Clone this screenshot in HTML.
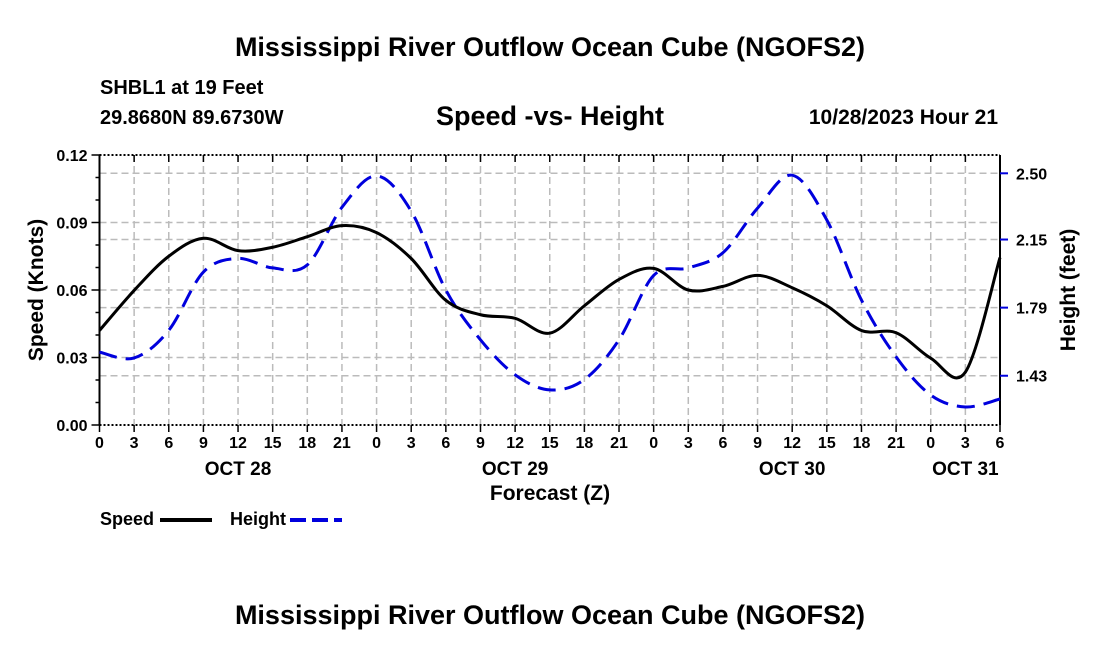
<!DOCTYPE html>
<html><head><meta charset="utf-8"><style>
body{margin:0;background:#fff;}
svg text{font-family:"Liberation Sans",Arial,sans-serif;font-weight:bold;fill:#000;}
</style></head><body>
<svg id="chart" width="1100" height="650" xmlns="http://www.w3.org/2000/svg">
<text x="550" y="56" font-size="27" text-anchor="middle">Mississippi River Outflow Ocean Cube (NGOFS2)</text>
<text x="100" y="94" font-size="20">SHBL1 at 19 Feet</text>
<text x="100" y="124" font-size="20">29.8680N  89.6730W</text>
<text x="550" y="125" font-size="27" text-anchor="middle">Speed -vs- Height</text>
<text x="998" y="124" font-size="21" text-anchor="end">10/28/2023 Hour 21</text>
<g id="grid"></g>
<g id="axes"></g>
<g id="series"></g>
<text x="550" y="500" font-size="21" text-anchor="middle">Forecast (Z)</text>
<text transform="translate(43,290) rotate(-90)" font-size="21" text-anchor="middle">Speed (Knots)</text>
<text transform="translate(1075,290) rotate(-90)" font-size="21" text-anchor="middle">Height (feet)</text>
<g><text x="100" y="525" font-size="18">Speed</text><line x1="160" y1="520" x2="212" y2="520" stroke="#000" stroke-width="4"/></g>
<g><text x="230" y="525" font-size="18">Height</text><line x1="290" y1="520" x2="342" y2="520" stroke="#0000dd" stroke-width="4" stroke-dasharray="16,6"/></g>
<text x="550" y="624" font-size="27" text-anchor="middle">Mississippi River Outflow Ocean Cube (NGOFS2)</text>
</svg>
<script>
const hours=[0,3,6,9,12,15,18,21,24,27,30,33,36,39,42,45,48,51,54,57,60,63,66,69,72,75,78];
const speed=[0.042,0.0598,0.075,0.083,0.0775,0.079,0.0837,0.0886,0.0855,0.074,0.0554,0.049,0.0474,0.0408,0.053,0.0647,0.0696,0.060,0.0616,0.0665,0.061,0.053,0.042,0.041,0.0297,0.0235,0.0744];
const height=[1.555,1.524,1.67,1.978,2.05,2.0,2.016,2.32,2.486,2.30,1.883,1.62,1.435,1.355,1.41,1.62,1.96,2.0,2.08,2.316,2.49,2.253,1.83,1.53,1.328,1.265,1.307];
const xTickLabels=["0","3","6","9","12","15","18","21","0","3","6","9","12","15","18","21","0","3","6","9","12","15","18","21","0","3","6"];
const dayLabels=["OCT 28","OCT 29","OCT 30","OCT 31"];
const dayHours=[12,36,60,75];
const speedTicks=[0,0.03,0.06,0.09,0.12];
const heightTicks=[1.43,1.79,2.15,2.50];
const L=99.5,R=1000,T=155,B=425;
const x=h=>L+(h-0)/78*(R-L);
const yS=v=>B-v/0.12*(B-T);
const yH=v=>173.3+(2.50-v)*189.2;
const NS="http://www.w3.org/2000/svg";
function mk(parent,tag,attrs){const e=document.createElementNS(NS,tag);for(const k in attrs)e.setAttribute(k,attrs[k]);document.getElementById(parent).appendChild(e);return e;}
hours.forEach((h,i)=>{if(i>0&&i<hours.length-1){const g=mk('grid','line',{x1:x(h),x2:x(h),y1:T,y2:B,stroke:'#bbb','stroke-width':1.5,'stroke-dasharray':'7,4'});

}});
speedTicks.slice(1,4).forEach(v=>{const g=mk('grid','line',{x1:L,x2:R,y1:yS(v),y2:yS(v),stroke:'#bbb','stroke-width':1.5,'stroke-dasharray':'7,4'});

});
heightTicks.forEach(v=>{const g=mk('grid','line',{x1:L,x2:R,y1:yH(v),y2:yH(v),stroke:'#bbb','stroke-width':1.5,'stroke-dasharray':'7,4'});

});
mk('axes','line',{x1:L,x2:L,y1:T,y2:B,stroke:'#000','stroke-width':2});
mk('axes','line',{x1:R,x2:R,y1:T,y2:B,stroke:'#000','stroke-width':2});
mk('axes','line',{x1:L,x2:R,y1:T,y2:T,stroke:'#000','stroke-width':2,'stroke-dasharray':'2,2'});
mk('axes','line',{x1:L,x2:R,y1:B,y2:B,stroke:'#000','stroke-width':2,'stroke-dasharray':'2,2'});
hours.forEach((h,i)=>{mk('axes','line',{x1:x(h),x2:x(h),y1:B,y2:B+7,stroke:'#000','stroke-width':1.5});
mk('axes','line',{x1:x(h),x2:x(h),y1:T,y2:T+7,stroke:'#000','stroke-width':1.5});
const t=mk('axes','text',{x:x(h),y:B+23,'font-size':16,'text-anchor':'middle'});t.textContent=xTickLabels[i];

});
dayLabels.forEach((d,i)=>{const t=mk('axes','text',{x:x(dayHours[i]),y:B+50,'font-size':19,'text-anchor':'middle'});t.textContent=d;

});
for(let v=0;v<=0.1201;v+=0.01){mk('axes','line',{x1:L-(Math.round(v*100)%3==0?8:4),x2:L,y1:yS(v),y2:yS(v),stroke:'#000','stroke-width':1.5});}
speedTicks.forEach(v=>{const t=mk('axes','text',{x:L-12,y:yS(v)+6,'font-size':16,'text-anchor':'end'});t.textContent=v.toFixed(2);

});
heightTicks.forEach(v=>{mk('axes','line',{x1:R,x2:R+8,y1:yH(v),y2:yH(v),stroke:'#0000dd','stroke-width':2});
const t=mk('axes','text',{x:R+16,y:yH(v)+6,'font-size':16});t.textContent=v.toFixed(2);

});
function path(pts){let d='M'+pts[0][0]+','+pts[0][1];for(let i=0;i<pts.length-1;i++){const p0=pts[i-1]||pts[i],p1=pts[i],p2=pts[i+1],p3=pts[i+2]||p2;
d+=' C'+(p1[0]+(p2[0]-p0[0])/6)+','+(p1[1]+(p2[1]-p0[1])/6)+' '+(p2[0]-(p3[0]-p1[0])/6)+','+(p2[1]-(p3[1]-p1[1])/6)+' '+p2[0]+','+p2[1];}return d;}
const ph=mk('series','path',{d:path(hours.map((h,i)=>[x(h),yH(height[i])])),fill:'none',stroke:'#0000dd','stroke-width':3,'stroke-dasharray':'18,9'});


const ps=mk('series','path',{d:path(hours.map((h,i)=>[x(h),yS(speed[i])])),fill:'none',stroke:'#000','stroke-width':3});


</script>
</body></html>
